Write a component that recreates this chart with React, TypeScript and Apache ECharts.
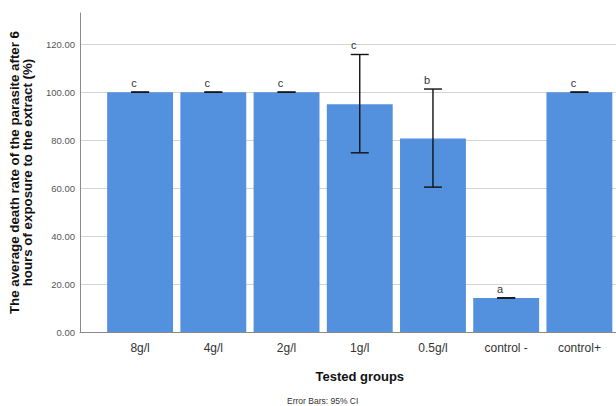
import React, { useEffect, useRef } from "react";
import * as echarts from "echarts";

const categories = ["8g/l", "4g/l", "2g/l", "1g/l", "0.5g/l", "control -", "control+"];
const means = [100, 100, 100, 95, 80.7, 14.2, 100];
const ciLower = [100, 100, 100, 74.7, 60.4, 14.2, 100];
const ciUpper = [100, 100, 100, 115.7, 101.3, 14.2, 100];
const letters = ["c", "c", "c", "c", "b", "a", "c"];
const yTicks = [0, 20, 40, 60, 80, 100, 120];

export default function App() {
  const ref = useRef<HTMLDivElement>(null);
  useEffect(() => {
    if (!ref.current) return;
    const chart = echarts.init(ref.current, null, { renderer: "svg" });
    const font = "'Liberation Sans', Arial, sans-serif";
    const errData = categories.map((_, i) => [i, ciLower[i], ciUpper[i], letters[i]]);
    chart.setOption({
      animation: false,
      backgroundColor: "#ffffff",
      textStyle: { fontFamily: font },
      grid: [
        { left: 77, right: 0, top: 13, bottom: 74 },
        { left: 103.5, right: 0, top: 13, bottom: 74 },
      ],
      xAxis: [
        {
          type: "value",
          gridIndex: 0,
          min: 0,
          max: 1,
          axisLine: { show: true, lineStyle: { color: "#8a8a8a", width: 1 } },
          axisTick: { show: false },
          axisLabel: { show: false },
          splitLine: { show: false },
        },
        {
          type: "category",
          gridIndex: 1,
          data: categories,
          axisLine: { show: false },
          axisTick: { show: false },
          axisLabel: { color: "#333", fontSize: 12, margin: 10, fontFamily: font },
          name: "Tested groups",
          nameLocation: "middle",
          nameGap: 38,
          nameTextStyle: { color: "#111", fontSize: 13, fontWeight: "bold", fontFamily: font },
        },
      ],
      yAxis: [
        {
          type: "value",
          gridIndex: 0,
          min: 0,
          max: 133,
          interval: 20,
          axisLine: { show: true, lineStyle: { color: "#8a8a8a", width: 1 } },
          axisTick: { show: false },
          axisLabel: {
            color: "#555",
            fontSize: 9.5,
            margin: 5,
            showMaxLabel: false,
            fontFamily: font,
            formatter: (v: number) => (yTicks.indexOf(v) >= 0 ? v.toFixed(2) : ""),
          },
          splitLine: { show: true, showMaxLine: false, lineStyle: { color: "#d4d4d4", width: 1 } },
          name: "The average death rate of the parasite after 6\nhours of exposure to the extract (%)",
          nameLocation: "middle",
          nameGap: 46,
          nameRotate: 90,
          nameTextStyle: { color: "#111", fontSize: 13.3, fontWeight: "bold", lineHeight: 13, fontFamily: font },
        },
        {
          type: "value",
          gridIndex: 1,
          min: 0,
          max: 133,
          show: false,
          splitLine: { show: false },
        },
      ],
      series: [
        {
          type: "bar",
          xAxisIndex: 1,
          yAxisIndex: 1,
          data: means,
          barWidth: "90%",
          itemStyle: { color: "#5391df" },
        },
        {
          type: "custom",
          xAxisIndex: 1,
          yAxisIndex: 1,
          data: errData,
          z: 10,
          renderItem: (params: any, api: any) => {
            const i = api.value(0);
            const lo = api.coord([i, api.value(1)]);
            const hi = api.coord([i, api.value(2)]);
            const hw = 9;
            const style = { stroke: "#111", lineWidth: 1.4 };
            return {
              type: "group",
              children: [
                { type: "line", shape: { x1: hi[0], y1: hi[1], x2: lo[0], y2: lo[1] }, style },
                { type: "line", shape: { x1: hi[0] - hw, y1: hi[1], x2: hi[0] + hw, y2: hi[1] }, style },
                { type: "line", shape: { x1: lo[0] - hw, y1: lo[1], x2: lo[0] + hw, y2: lo[1] }, style },
                {
                  type: "text",
                  x: hi[0] - 6,
                  y: hi[1] - 9,
                  style: {
                    text: letters[params.dataIndex],
                    fill: "#333",
                    fontSize: 11,
                    fontFamily: font,
                    align: "center",
                    verticalAlign: "middle",
                  },
                },
              ],
            };
          },
        },
      ],
      graphic: [
        {
          type: "text",
          left: 287,
          top: 396,
          style: { text: "Error Bars: 95% CI", fill: "#333", fontSize: 8.5, fontFamily: font },
        },
      ],
    });
    return () => chart.dispose();
  }, []);
  return <div ref={ref} style={{ position: "fixed", left: 0, top: 0, width: 616, height: 406 }} />;
}
